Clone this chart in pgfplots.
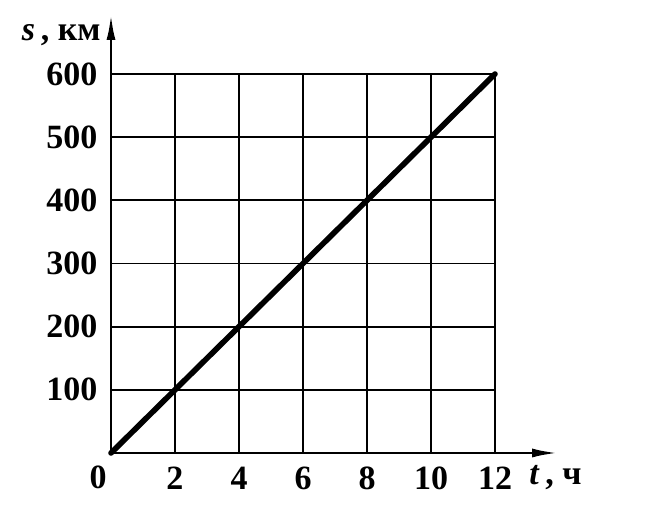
\documentclass[border=0pt]{standalone}
\usepackage{fontspec}
\setmainfont{Liberation Serif}
\usepackage{pgfplots}
\pgfplotsset{compat=1.18}
\usetikzlibrary{arrows.meta}

\begin{document}
\begin{tikzpicture}
\fontsize{17}{19}\selectfont\bfseries
% page: 662x512 px at 0.5pt per px
\path[use as bounding box] (0,0) rectangle (331pt,256pt);
\begin{axis}[
  at={(55.5pt,29.5pt)}, anchor=south west,
  scale only axis,
  width=192pt, height=189.5pt,
  xmin=0, xmax=12, ymin=0, ymax=600,
  axis line style={draw=none},
  clip=false,
  xtick={2,4,...,12}, ytick={100,200,...,600},
  grid=major,
  major grid style={black, line width=0.9pt},
  major tick length=0pt,
  /pgf/number format/assume math mode=true,
  ticklabel style={font=\fontsize{17}{19}\selectfont\bfseries},
  xticklabel style={yshift=-1pt},
  yticklabel style={xshift=-1pt},
]
\addplot[black, line width=2.8pt, line cap=round] coordinates {(0,0) (12,600)};
% axes with arrows
\draw[line width=1.4pt, -{Latex[length=13pt,width=4.5pt]}] (axis cs:0,0) -- (axis cs:13.97,0);
\draw[line width=1.4pt, -{Latex[length=13pt,width=4.5pt]}] (axis cs:0,0) -- (axis cs:0,695);
\node[anchor=north east, inner sep=0pt] at ([xshift=-2pt,yshift=-6pt]axis cs:0,0) {0};
\node[anchor=north west, inner sep=0pt] at ([xshift=17pt,yshift=-6pt]axis cs:12,0) {\textit{t}\,, ч};
\node[anchor=east, inner sep=0pt] at ([xshift=-5pt]axis cs:0,662) {\textit{s}\,, км};
\end{axis}
\end{tikzpicture}
\end{document}
